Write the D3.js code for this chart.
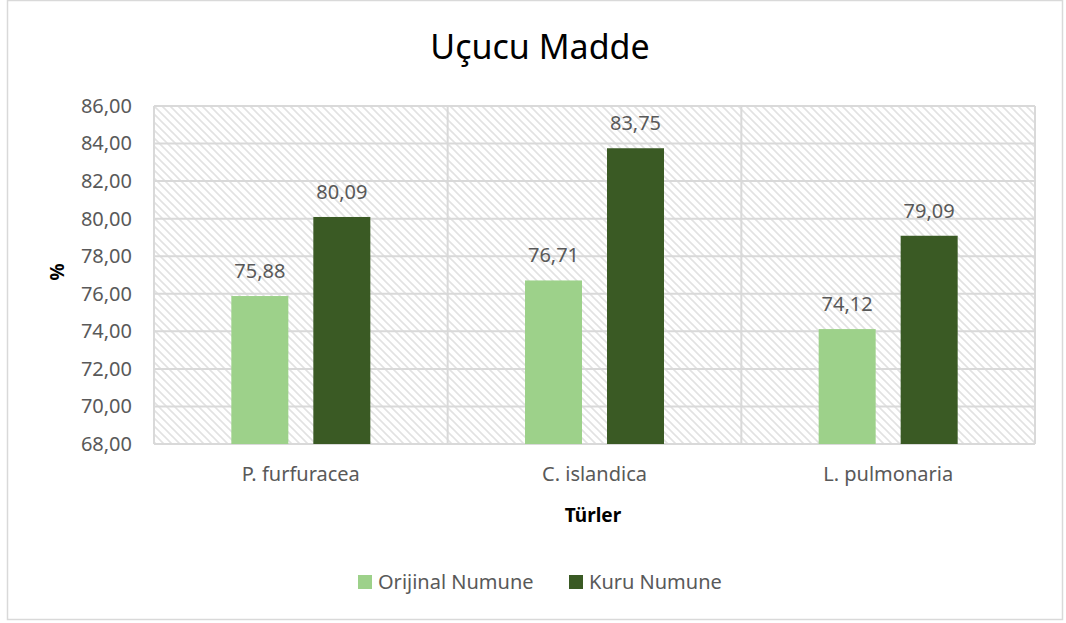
<!DOCTYPE html>
<html>
<head>
<meta charset="utf-8">
<script src="https://cdn.jsdelivr.net/npm/d3@7"></script>
<style>
  body { margin: 0; background: #fff; }
  text { font-family: "Noto Sans", Lato, sans-serif; }
</style>
</head>
<body>
<div id="chart"></div>
<script>
const categories = ['P. furfuracea', 'C. islandica', 'L. pulmonaria'];
const seriesNames = ['Orijinal Numune', 'Kuru Numune'];
const orijinal = [75.88, 76.71, 74.12];
const kuru = [80.09, 83.75, 79.09];
const yTicks = [68, 70, 72, 74, 76, 78, 80, 82, 84, 86];
const colors = ['#9dd18a', '#3a5a24'];

const width = 1066, height = 623;
const plot = {left: 154, right: 1035, top: 106, bottom: 444};

const svg = d3.select('#chart').append('svg')
  .attr('width', width)
  .attr('height', height);

// hatch pattern for plot background
const defs = svg.append('defs');
const pat = defs.append('pattern')
  .attr('id', 'hatch')
  .attr('patternUnits', 'userSpaceOnUse')
  .attr('width', 8).attr('height', 8);
pat.append('path')
  .attr('d', 'M-2,6 L2,10 M0,0 L8,8 M6,-2 L10,2')
  .attr('stroke', '#e2e2e2')
  .attr('stroke-width', 1.6);

// outer chart border
svg.append('rect')
  .attr('x', 7.5).attr('y', 0.5)
  .attr('width', 1055).attr('height', 619)
  .attr('fill', '#fff')
  .attr('stroke', '#d9d9d9')
  .attr('stroke-width', 1.5);

const x0 = d3.scaleBand()
  .domain(categories)
  .range([plot.left, plot.right]);

const groupW = 139;
const x1 = d3.scaleBand()
  .domain(seriesNames)
  .range([0, groupW])
  .paddingInner(25 / 82);

const y = d3.scaleLinear()
  .domain([68, 86])
  .range([plot.bottom, plot.top]);

svg.append('rect')
  .attr('x', plot.left).attr('y', plot.top)
  .attr('width', plot.right - plot.left)
  .attr('height', plot.bottom - plot.top)
  .attr('fill', 'url(#hatch)');

// gridlines
svg.append('g').selectAll('line')
  .data(yTicks)
  .join('line')
  .attr('x1', plot.left).attr('x2', plot.right)
  .attr('y1', d => y(d)).attr('y2', d => y(d))
  .attr('stroke', '#d9d9d9')
  .attr('stroke-width', 2);

// vertical category dividers
const edges = categories.map(c => x0(c)).concat([plot.right]);
svg.append('g').selectAll('line')
  .data(edges)
  .join('line')
  .attr('x1', d => d).attr('x2', d => d)
  .attr('y1', plot.top).attr('y2', plot.bottom)
  .attr('stroke', '#d9d9d9')
  .attr('stroke-width', 2);

// y axis labels
const yAxis = d3.axisLeft(y)
  .tickValues(yTicks)
  .tickSize(0)
  .tickPadding(22)
  .tickFormat(d => d3.format('.2f')(d).replace('.', ','));
const gy = svg.append('g')
  .attr('transform', `translate(${plot.left},0)`)
  .call(yAxis);
gy.select('.domain').remove();
gy.selectAll('text')
  .attr('fill', '#595959')
  .style('font-size', '20px');

// x axis labels
const xAxis = d3.axisBottom(x0).tickSize(0).tickPadding(23);
const gx = svg.append('g')
  .attr('transform', `translate(0,${plot.bottom})`)
  .call(xAxis);
gx.select('.domain').remove();
gx.selectAll('text')
  .attr('fill', '#595959')
  .style('font-size', '20px');

// bars
const rows = categories.map((c, i) => ({cat: c, vals: [orijinal[i], kuru[i]]}));
const groups = svg.append('g').selectAll('g')
  .data(rows)
  .join('g')
  .attr('transform', d => `translate(${x0(d.cat) + (x0.bandwidth() - groupW) / 2},0)`);

groups.selectAll('rect')
  .data(d => d.vals.map((v, j) => ({name: seriesNames[j], v: v, j: j})))
  .join('rect')
  .attr('x', d => x1(d.name))
  .attr('width', x1.bandwidth())
  .attr('y', d => y(d.v))
  .attr('height', d => plot.bottom - y(d.v))
  .attr('fill', d => colors[d.j]);

groups.selectAll('text.lbl')
  .data(d => d.vals.map((v, j) => ({name: seriesNames[j], v: v})))
  .join('text')
  .attr('class', 'lbl')
  .attr('x', d => x1(d.name) + x1.bandwidth() / 2)
  .attr('y', d => y(d.v) - 18)
  .attr('text-anchor', 'middle')
  .attr('fill', '#595959')
  .style('font-size', '20px')
  .text(d => d3.format('.2f')(d.v).replace('.', ','));

// title
svg.append('text')
  .attr('x', 540).attr('y', 59)
  .attr('text-anchor', 'middle')
  .attr('fill', '#000')
  .style('font-size', '34px')
  .text('Uçucu Madde');

// axis titles
svg.append('text')
  .attr('transform', 'translate(64,272) rotate(-90)')
  .attr('text-anchor', 'middle')
  .attr('fill', '#000')
  .style('font-size', '19px')
  .style('font-weight', 'bold')
  .text('%');

svg.append('text')
  .attr('x', 593).attr('y', 522)
  .attr('text-anchor', 'middle')
  .attr('fill', '#000')
  .style('font-size', '19px')
  .style('font-weight', 'bold')
  .text('Türler');

// legend
const legendX = [358, 569];
const leg = svg.append('g').selectAll('g')
  .data(seriesNames)
  .join('g')
  .attr('transform', (d, i) => `translate(${legendX[i]},575)`);
leg.append('rect')
  .attr('width', 14).attr('height', 14)
  .attr('fill', (d, i) => colors[i]);
leg.append('text')
  .attr('x', 20).attr('y', 14)
  .attr('fill', '#595959')
  .style('font-size', '20px')
  .text(d => d);
</script>
</body>
</html>
